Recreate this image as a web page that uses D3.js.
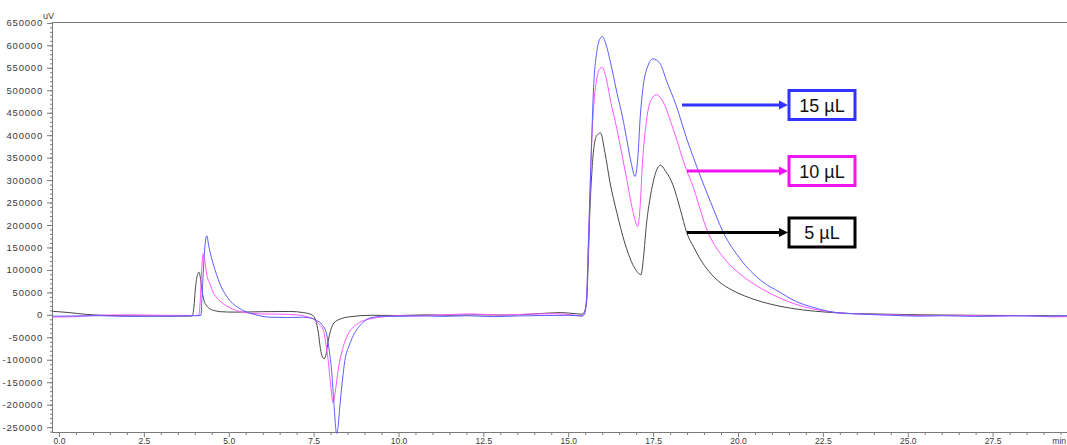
<!DOCTYPE html>
<html><head><meta charset="utf-8">
<script src="https://cdn.jsdelivr.net/npm/d3@7"></script>
<style>
body{margin:0;background:#fff;overflow:hidden}
svg{display:block;font-family:"Liberation Sans",Arial,sans-serif}
</style>
</head><body>
<svg id="c" width="1067" height="445"></svg>
<script>
// ---- data (time in min, signal in uV) ----
const t5  = [-0.2,0.3,0.8,1.5,2.5,3.5,3.92,3.97,4.02,4.08,4.12,4.16,4.21,4.27,4.35,4.45,4.6,4.75,5.2,6.0,6.8,7.2,7.45,7.56,7.64,7.7,7.76,7.81,7.86,7.93,8.0,8.1,8.3,8.6,9.2,10,10.8,11.5,12.3,13.2,14.0,14.8,15.2,15.42,15.48,15.54,15.59,15.64,15.69,15.74,15.84,15.95,16.08,16.23,16.43,16.72,16.9,17.02,17.14,17.22,17.3,17.4,17.5,17.6,17.72,17.85,18.09,18.3,18.49,18.7,18.88,19.15,19.47,19.8,20.2,20.7,21.24,21.9,22.6,23.3,24,25,26,27,28,29,29.8];
const v5  = [8000,5000,1000,-1500,-2500,-3000,-2500,15000,60000,90000,95000,85000,55000,32000,20000,13000,9000,7000,6000,7000,7500,5000,0,-12000,-40000,-75000,-94000,-98000,-90000,-58000,-35000,-18000,-9000,-4000,-1000,-1500,0,-1000,0,-500,2000,5000,2500,1500,8000,28000,120000,236000,310000,362000,399000,405000,362000,295000,228000,147000,112000,97000,89000,130000,199000,255000,295000,322000,333000,322000,288000,235000,183000,150000,125000,96000,72000,56000,42000,29000,19000,11000,6000,3000,2000,500,-500,-1000,-1500,-2000,-2500];

const t10 = [-0.2,0.4,1.0,2.0,3.0,4.0,4.12,4.16,4.2,4.25,4.3,4.35,4.45,4.54,4.7,4.84,5.0,5.23,5.6,6.0,6.5,7.0,7.3,7.49,7.65,7.79,7.87,7.93,8.0,8.07,8.14,8.22,8.37,8.5,8.67,8.9,9.16,9.6,10,10.5,11,11.6,12.2,13,13.8,14.6,15.1,15.42,15.48,15.54,15.59,15.64,15.69,15.74,15.84,15.92,16.0,16.1,16.25,16.43,16.6,16.72,16.9,17.05,17.12,17.18,17.3,17.45,17.6,17.75,18.09,18.49,18.63,19.12,19.6,20.06,20.7,21.24,21.8,22.6,23.2,24,25,25.5,26.5,27.5,28.5,29.2,29.8];
const v10 = [-5000,-4500,-1500,0,-1000,-1500,-500,30000,95000,136000,118000,91000,68000,50000,34000,24500,17000,9600,4000,2000,1500,0,-4000,-9000,-20000,-35000,-70000,-102000,-155000,-195000,-170000,-124000,-72000,-45000,-27600,-15000,-9000,-4000,-2000,-3000,-1000,1000,2000,-500,1500,2500,0,-3000,3000,38000,150000,268000,380000,455000,525000,547000,551000,532000,475000,415000,350000,303000,232000,197000,245000,330000,430000,480000,490000,480000,414000,321000,295000,183000,125000,91000,58000,37000,21000,8000,3000,1000,-1000,-2000,-1000,-3000,-2000,-4500,-4000];

const t15 = [-0.2,0.5,1.2,2.0,3.0,4.0,4.18,4.22,4.28,4.35,4.42,4.54,4.64,4.74,4.88,5.03,5.2,5.43,5.8,6.21,6.7,7.2,7.45,7.59,7.75,7.88,7.96,8.03,8.1,8.18,8.22,8.27,8.35,8.42,8.55,8.67,8.8,8.96,9.16,9.6,10,10.6,11.3,12,12.8,13.5,14.3,15.0,15.42,15.48,15.54,15.59,15.64,15.69,15.74,15.84,15.92,16.0,16.1,16.25,16.43,16.6,16.72,16.85,16.97,17.05,17.12,17.21,17.35,17.49,17.7,17.9,18.17,18.5,18.83,19.2,19.57,20.06,20.7,21.24,21.7,22.2,22.8,23.5,24.5,25.3,26,27,28,29,29.8];
const v15 = [-3000,-2500,-2000,-3500,-3000,-2000,-1500,50000,135000,176000,150000,113600,90000,69000,48000,32000,20000,9600,0,-5300,-6000,-5300,-8000,-12700,-22000,-42000,-80000,-124000,-200000,-265000,-250000,-206000,-145000,-102000,-68000,-46000,-30000,-16500,-7000,-3000,-3500,-2000,-3500,-2000,-4000,-2500,-1500,-1000,-2500,2000,36000,150000,273000,390000,496000,585000,612000,620000,605000,560000,496000,440000,392000,340000,308000,350000,440000,510000,555000,570000,560000,520000,468000,390000,321000,250000,183000,125000,75000,50000,30000,17000,6000,2000,-1000,-3000,-2000,-3500,-2000,-3000,-2000];

const seriesLabels = ["5 µL","10 µL","15 µL"];
const yMajor = d3.range(-250000, 650001, 50000);
const yMinor = d3.range(-260000, 650001, 10000);
const xMajor = d3.range(0, 27.51, 2.5);
const xMinor = d3.range(0, 29.71, 0.5);
const yUnit = "uV";
const xUnit = "min";

// ---- drawing ----
const svg = d3.select("#c");
const L = 52, T = 22, B = 432.5, R = 1067;
const x = d3.scaleLinear().domain([-0.2, 29.7]).range([52.2, 1067.3]);
const y = d3.scaleLinear().domain([-262000, 652000]).range([B, T]);

const axisColor = "#7a7a7a", textColor = "#3a3a3a";

svg.append("defs").append("clipPath").attr("id","clip")
  .append("rect").attr("x",L).attr("y",T).attr("width",R-L).attr("height",B-T+1);

// frame
svg.append("line").attr("x1",L).attr("x2",R).attr("y1",T+0.5).attr("y2",T+0.5).attr("stroke",axisColor);

// y axis
const gy = svg.append("g").attr("transform",`translate(${L},0)`)
  .call(d3.axisLeft(y).tickValues(yMinor).tickSize(2).tickFormat(""));
const gyM = svg.append("g").attr("transform",`translate(${L},0)`)
  .call(d3.axisLeft(y).tickValues(yMajor).tickSize(5).tickPadding(4).tickFormat(d=>String(d)));
[gy, gyM].forEach(g=>{
  g.select(".domain").remove();
  g.selectAll(".tick line").attr("stroke",axisColor);
  g.selectAll("text").attr("fill",textColor).attr("font-size","9.5px").attr("letter-spacing","0.8px")
    .attr("font-family",'"Liberation Sans",Arial,sans-serif');
});
svg.append("line").attr("x1",L+0.5).attr("x2",L+0.5).attr("y1",T).attr("y2",B).attr("stroke",axisColor);

// x axis
const gx = svg.append("g").attr("transform",`translate(0,${B})`)
  .call(d3.axisBottom(x).tickValues(xMinor.filter(v=>!xMajor.includes(v))).tickSize(2.5).tickFormat(""));
const gxM = svg.append("g").attr("transform",`translate(0,${B})`)
  .call(d3.axisBottom(x).tickValues(xMajor).tickSize(4.5).tickPadding(0.5).tickFormat(d=>d.toFixed(1)));
[gx, gxM].forEach(g=>{
  g.select(".domain").remove();
  g.selectAll(".tick line").attr("stroke",axisColor);
  g.selectAll("text").attr("fill",textColor).attr("font-size","8.5px")
    .attr("font-family",'"Liberation Sans",Arial,sans-serif');
});
svg.append("line").attr("x1",L).attr("x2",R).attr("y1",B).attr("y2",B).attr("stroke",axisColor);

// unit labels
svg.append("text").attr("x",43).attr("y",19).attr("font-size","9px").attr("fill",textColor).text(yUnit);
svg.append("text").attr("x",1066).attr("y",B+5).attr("dy","0.71em").attr("text-anchor","end")
  .attr("font-size","8.5px").attr("fill",textColor).text(xUnit);

// series
const line = d3.line().x(d=>x(d[0])).y(d=>y(d[1])).curve(d3.curveMonotoneX);
const series = [
  {t:t5,  v:v5,  color:"#474747"},
  {t:t10, v:v10, color:"#ff55ff"},
  {t:t15, v:v15, color:"#5c5cff"}
];
const plot = svg.append("g").attr("clip-path","url(#clip)");
series.forEach(s=>{
  plot.append("path").datum(s.t.map((t,i)=>[t,s.v[i]]))
    .attr("d",line).attr("fill","none").attr("stroke",s.color).attr("stroke-width",1);
});

// legend callouts
const legend = [
  {label:seriesLabels[2], color:"#3333ff", cy:105, x0:682},
  {label:seriesLabels[1], color:"#f014f0", cy:171, x0:687},
  {label:seriesLabels[0], color:"#000000", cy:232.5, x0:687}
];
const bx = 789, bw = 66, bh = 29;
legend.forEach(d=>{
  svg.append("line").attr("x1",d.x0).attr("x2",bx-9).attr("y1",d.cy).attr("y2",d.cy)
    .attr("stroke",d.color).attr("stroke-width",3);
  svg.append("path").attr("d",`M${bx-10},${d.cy-4.5}L${bx-1},${d.cy}L${bx-10},${d.cy+4.5}Z`).attr("fill",d.color);
  svg.append("rect").attr("x",bx).attr("y",d.cy-bh/2).attr("width",bw).attr("height",bh)
    .attr("fill","#fff").attr("stroke",d.color).attr("stroke-width",3);
  svg.append("text").attr("x",bx+bw/2).attr("y",d.cy+6.5).attr("text-anchor","middle")
    .attr("font-size","18px").attr("fill","#111").text(d.label);
});
</script>
</body></html>
